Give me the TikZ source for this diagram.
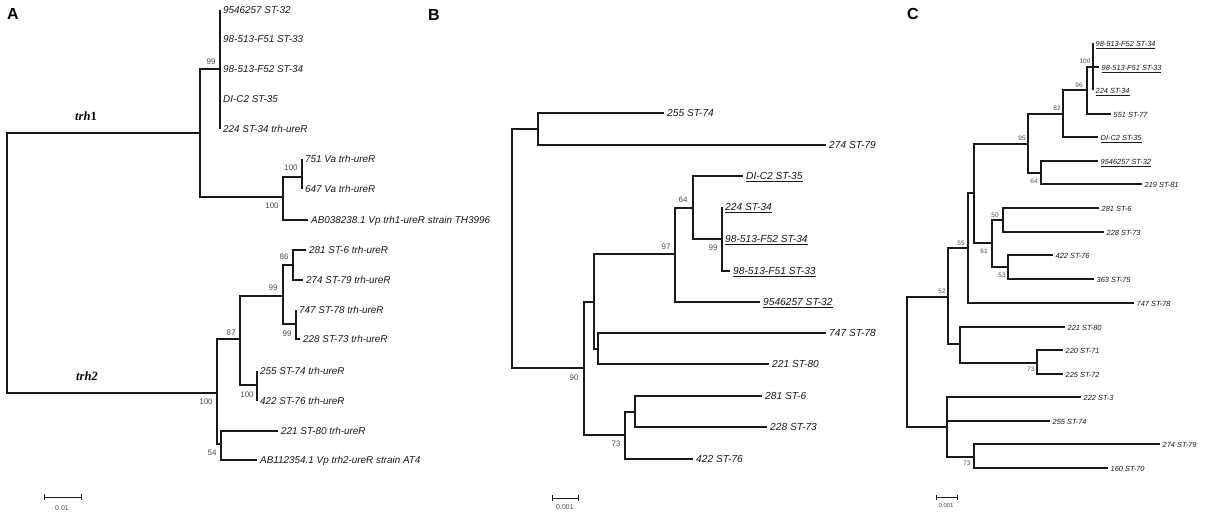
\documentclass[tikz,border=0pt]{standalone}
\usepackage{fontspec}
\setmainfont{Liberation Sans}
\newfontfamily\trhserif{Liberation Serif}
\definecolor{lc}{gray}{0.1}
\definecolor{bc}{gray}{0.3}
\tikzset{
 br/.style={line width=1.4pt, draw=lc},
 brC/.style={line width=1.1pt, draw=lc},
 lfA/.style={anchor=west, inner xsep=3pt, inner ysep=0pt, text height=0.72em, text depth=0pt, text=lc, font=\fontsize{9.9}{11}\selectfont\itshape},
 lfB/.style={lfA, font=\fontsize{10.2}{12}\selectfont\itshape},
 lfC/.style={lfA, inner xsep=2.5pt, font=\fontsize{7.4}{9}\selectfont\itshape},
 bsA/.style={inner sep=0pt, text=bc, font=\fontsize{8}{9}\selectfont},
 bsC/.style={inner sep=0pt, text=bc, font=\fontsize{6.4}{8}\selectfont},
 panel/.style={inner sep=0pt, text=black, font=\fontsize{16}{18}\selectfont\bfseries},
 grp/.style={inner sep=0pt, text=black, font=\fontsize{12.5}{14}\selectfont\trhserif\bfseries},
 sbar/.style={line width=0.9pt, draw=lc},
 stxt/.style={inner sep=0pt, text=bc, font=\fontsize{7}{8}\selectfont}
}
\begin{document}
\begin{tikzpicture}[x=1pt,y=-1pt]
\fill[white] (0,0) rectangle (1205,516);
\useasboundingbox (0,0) rectangle (1205,516);

% ================= Panel A =================
\node[panel] (pA) at (13,14) {A};
\node[grp] (gA1) at (86,116) {\itshape trh\upshape 1};
\node[grp] (gA2) at (87,376) {\itshape trh2};
\coordinate (Ar) at (7,263);
\coordinate (A1) at (200,133);
\coordinate (A99) at (220,69);
\coordinate (Ab) at (283,197);
\coordinate (Ac) at (302,177);
\coordinate (A2) at (217,393);
\coordinate (A87) at (240,339);
\coordinate (A99b) at (283,296);
\coordinate (A86) at (293,265);
\coordinate (A99c) at (296,324);
\coordinate (A100b) at (257,385);
\coordinate (A54) at (221,444);
\node[lfA] (a1) at (220,10) {9546257 ST-32};
\node[lfA] (a2) at (220,39) {98-513-F51 ST-33};
\node[lfA] (a3) at (220,69) {98-513-F52 ST-34};
\node[lfA] (a4) at (220,99) {DI-C2 ST-35};
\node[lfA] (a5) at (220,129) {224 ST-34 trh-ureR};
\node[lfA] (a6) at (302,159) {751 Va trh-ureR};
\node[lfA] (a7) at (302,189) {647 Va trh-ureR};
\node[lfA] (a8) at (308,220) {AB038238.1 Vp trh1-ureR strain TH3996};
\node[lfA] (a9) at (306,250) {281 ST-6 trh-ureR};
\node[lfA] (a10) at (303,280) {274 ST-79 trh-ureR};
\node[lfA] (a11) at (296,310) {747 ST-78 trh-ureR};
\node[lfA] (a12) at (300,339) {228 ST-73 trh-ureR};
\node[lfA] (a13) at (257,371) {255 ST-74 trh-ureR};
\node[lfA] (a14) at (257,401) {422 ST-76 trh-ureR};
\node[lfA] (a15) at (278,431) {221 ST-80 trh-ureR};
\node[lfA] (a16) at (257,460) {AB112354.1 Vp trh2-ureR strain AT4};
\draw[br] (Ar) |- (A1);
\draw[br] (Ar) |- (A2);
\draw[br] (A1) |- (A99);
\draw[br] (A1) |- (Ab);
\foreach \l in {a1,a2,a3,a4,a5} \draw[br] (A99) |- (\l.west);
\draw[br] (Ab) |- (Ac);
\draw[br] (Ab) |- (a8.west);
\draw[br] (Ac) |- (a6.west);
\draw[br] (Ac) |- (a7.west);
\draw[br] (A2) |- (A87);
\draw[br] (A2) |- (A54);
\draw[br] (A87) |- (A99b);
\draw[br] (A87) |- (A100b);
\draw[br] (A99b) |- (A86);
\draw[br] (A99b) |- (A99c);
\draw[br] (A86) |- (a9.west);
\draw[br] (A86) |- (a10.west);
\draw[br] (A99c) |- (a11.west);
\draw[br] (A99c) |- (a12.west);
\draw[br] (A100b) |- (a13.west);
\draw[br] (A100b) |- (a14.west);
\draw[br] (A54) |- (a15.west);
\draw[br] (A54) |- (a16.west);
\node[bsA] (bA1) at (211,62) {99};
\node[bsA] (bA2) at (291,168) {100};
\node[bsA] (bA3) at (272,206) {100};
\node[bsA] (bA4) at (206,402) {100};
\node[bsA] (bA5) at (231,333) {87};
\node[bsA] (bA6) at (273,288) {99};
\node[bsA] (bA7) at (284,257) {86};
\node[bsA] (bA8) at (287,334) {99};
\node[bsA] (bA9) at (247,395) {100};
\node[bsA] (bA10) at (212,453) {54};
\coordinate (sA1) at (44,497);
\coordinate (sA2) at (81,497);
\draw[sbar] (sA1) -- (sA2);
\draw[sbar] ([yshift=-3pt]sA1) -- ([yshift=3pt]sA1);
\draw[sbar] ([yshift=-3pt]sA2) -- ([yshift=3pt]sA2);
\node[stxt] (tA) at (62,508) {0.01};

% ================= Panel B =================
\node[panel] (pB) at (434,15) {B};
\coordinate (Br) at (512,248);
\coordinate (B1) at (538,129);
\coordinate (B90) at (584,368);
\coordinate (B2) at (594,302);
\coordinate (B97) at (675,254);
\coordinate (B64) at (693,208);
\coordinate (B99) at (722,239);
\coordinate (B3) at (598,349);
\coordinate (B73) at (625,435);
\coordinate (B4) at (635,412);
\node[lfB] (b1) at (664,113) {255 ST-74};
\node[lfB] (b2) at (826,145) {274 ST-79};
\node[lfB] (b3) at (743,176) {\underline{DI-C2 ST-35}};
\node[lfB] (b4) at (722,207) {\underline{224 ST-34}};
\node[lfB] (b5) at (722,239) {\underline{98-513-F52 ST-34}};
\node[lfB] (b6) at (730,271) {\underline{98-513-F51 ST-33}};
\node[lfB] (b7) at (760,302) {\underline{9546257 ST-32}};
\node[lfB] (b8) at (826,333) {747 ST-78};
\node[lfB] (b9) at (769,364) {221 ST-80};
\node[lfB] (b10) at (762,396) {281 ST-6};
\node[lfB] (b11) at (767,427) {228 ST-73};
\node[lfB] (b12) at (693,459) {422 ST-76};
\draw[br] (Br) |- (B1);
\draw[br] (Br) |- (B90);
\draw[br] (B1) |- (b1.west);
\draw[br] (B1) |- (b2.west);
\draw[br] (B90) |- (B2);
\draw[br] (B90) |- (B73);
\draw[br] (B2) |- (B97);
\draw[br] (B2) |- (B3);
\draw[br] (B97) |- (B64);
\draw[br] (B97) |- (b7.west);
\draw[br] (B64) |- (b3.west);
\draw[br] (B64) |- (B99);
\foreach \l in {b4,b5,b6} \draw[br] (B99) |- (\l.west);
\draw[br] (B3) |- (b8.west);
\draw[br] (B3) |- (b9.west);
\draw[br] (B73) |- (B4);
\draw[br] (B73) |- (b12.west);
\draw[br] (B4) |- (b10.west);
\draw[br] (B4) |- (b11.west);
\node[bsA] (bB1) at (574,378) {90};
\node[bsA] (bB2) at (666,247) {97};
\node[bsA] (bB3) at (683,200) {64};
\node[bsA] (bB4) at (713,248) {99};
\node[bsA] (bB5) at (616,444) {73};
\coordinate (sB1) at (552,498);
\coordinate (sB2) at (578,498);
\draw[sbar] (sB1) -- (sB2);
\draw[sbar] ([yshift=-3pt]sB1) -- ([yshift=3pt]sB1);
\draw[sbar] ([yshift=-3pt]sB2) -- ([yshift=3pt]sB2);
\node[stxt] (tB) at (565,507) {0.001};

% ================= Panel C =================
\node[panel] (pC) at (913,14) {C};
\coordinate (Cr) at (907,362);
\coordinate (C52) at (948,297);
\coordinate (C55) at (968,248);
\coordinate (C5) at (974,193);
\coordinate (C95) at (1028,144);
\coordinate (C82) at (1063,114);
\coordinate (C96) at (1087,90);
\coordinate (C100) at (1093,67);
\coordinate (C64) at (1041,173);
\coordinate (C61) at (992,243);
\coordinate (C50) at (1003,220);
\coordinate (C53) at (1008,267);
\coordinate (C7) at (960,344);
\coordinate (C73a) at (1037,363);
\coordinate (C9) at (947,427);
\coordinate (C73b) at (974,457);
\node[lfC] (c1) at (1093,43) {\underline{98-513-F52 ST-34}};
\node[lfC] (c2) at (1099,67) {\underline{98-513-F51 ST-33}};
\node[lfC] (c3) at (1093,90) {\underline{224 ST-34}};
\node[lfC] (c4) at (1111,114) {551 ST-77};
\node[lfC] (c5) at (1098,137) {\underline{DI-C2 ST-35}};
\node[lfC] (c6) at (1098,161) {\underline{9546257 ST-32}};
\node[lfC] (c7) at (1142,184) {219 ST-81};
\node[lfC] (c8) at (1099,208) {281 ST-6};
\node[lfC] (c9) at (1104,232) {228 ST-73};
\node[lfC] (c10) at (1053,255) {422 ST-76};
\node[lfC] (c11) at (1094,279) {363 ST-75};
\node[lfC] (c12) at (1134,303) {747 ST-78};
\node[lfC] (c13) at (1065,327) {221 ST-80};
\node[lfC] (c14) at (1063,350) {220 ST-71};
\node[lfC] (c15) at (1063,374) {225 ST-72};
\node[lfC] (c16) at (1081,397) {222 ST-3};
\node[lfC] (c17) at (1050,421) {255 ST-74};
\node[lfC] (c18) at (1160,444) {274 ST-79};
\node[lfC] (c19) at (1108,468) {160 ST-70};
\draw[brC] (Cr) |- (C52);
\draw[brC] (Cr) |- (C9);
\draw[brC] (C52) |- (C55);
\draw[brC] (C52) |- (C7);
\draw[brC] (C55) |- (C5);
\draw[brC] (C55) |- (c12.west);
\draw[brC] (C5) |- (C95);
\draw[brC] (C5) |- (C61);
\draw[brC] (C95) |- (C82);
\draw[brC] (C95) |- (C64);
\draw[brC] (C82) |- (C96);
\draw[brC] (C82) |- (c5.west);
\draw[brC] (C96) |- (C100);
\draw[brC] (C96) |- (c4.west);
\foreach \l in {c1,c2,c3} \draw[brC] (C100) |- (\l.west);
\draw[brC] (C64) |- (c6.west);
\draw[brC] (C64) |- (c7.west);
\draw[brC] (C61) |- (C50);
\draw[brC] (C61) |- (C53);
\draw[brC] (C50) |- (c8.west);
\draw[brC] (C50) |- (c9.west);
\draw[brC] (C53) |- (c10.west);
\draw[brC] (C53) |- (c11.west);
\draw[brC] (C7) |- (c13.west);
\draw[brC] (C7) |- (C73a);
\draw[brC] (C73a) |- (c14.west);
\draw[brC] (C73a) |- (c15.west);
\draw[brC] (C9) |- (c16.west);
\draw[brC] (C9) |- (c17.west);
\draw[brC] (C9) |- (C73b);
\draw[brC] (C73b) |- (c18.west);
\draw[brC] (C73b) |- (c19.west);
\node[bsC] (bC1) at (942,291) {52};
\node[bsC] (bC2) at (961,243) {55};
\node[bsC] (bC3) at (1022,138) {95};
\node[bsC] (bC4) at (1057,108) {82};
\node[bsC] (bC5) at (1079,85) {96};
\node[bsC] (bC6) at (1085,61) {100};
\node[bsC] (bC7) at (1034,181) {64};
\node[bsC] (bC8) at (984,251) {61};
\node[bsC] (bC9) at (995,215) {50};
\node[bsC] (bC10) at (1002,275) {53};
\node[bsC] (bC11) at (1031,369) {73};
\node[bsC] (bC12) at (967,463) {73};
\coordinate (sC1) at (936,497);
\coordinate (sC2) at (957,497);
\draw[sbar] (sC1) -- (sC2);
\draw[sbar] ([yshift=-2.5pt]sC1) -- ([yshift=2.5pt]sC1);
\draw[sbar] ([yshift=-2.5pt]sC2) -- ([yshift=2.5pt]sC2);
\node[stxt, font=\fontsize{6}{7}\selectfont] (tC) at (946,505) {0.001};
\end{tikzpicture}
\end{document}
